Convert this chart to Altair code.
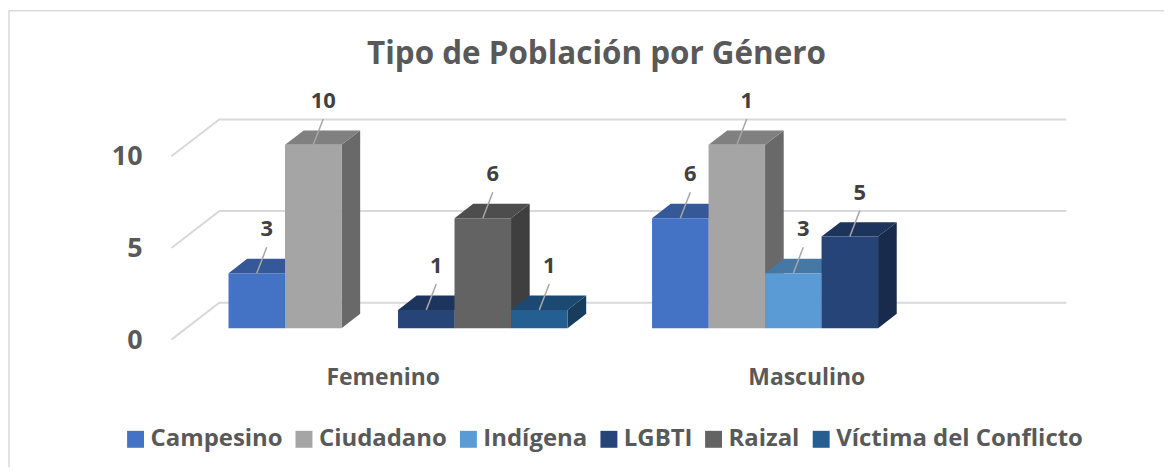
import altair as alt
import pandas as pd

# ---------------- data ----------------
genders = ["Femenino", "Masculino"]
series = ["Campesino", "Ciudadano", "Indígena", "LGBTI", "Raizal", "Víctima del Conflicto"]
femenino = [3, 10, None, 1, 6, 1]
masculino = [6, 10, 3, 5, None, None]
label_fem = ["3", "10", "", "1", "6", "1"]
label_mas = ["6", "1", "3", "5", "", ""]
y_ticks = [0, 5, 10]
colors = ["#4472C4", "#A5A5A5", "#5B9BD5", "#264478", "#636363", "#255E91"]
title_text = "Tipo de Población por Género"

# ---------------- layout (pixels) ----------------
W, H = 1160, 460
PXU = 18.4            # pixels per value unit
X0 = 164              # front-left corner of the floor
Y0 = 332              # pixel row of value 0 at the floor front
DEPTH_X, DEPTH_Y = 48, 37
DZ = DEPTH_Y / PXU
CAT_W = 425
SLOT = 56.7
MARGIN = (CAT_W - len(series) * SLOT) / 2
DF, DB = 0.31, 0.70
LEAD_DX, LEAD_DY, LAB_DY = 10, 26 / PXU, 37 / PXU
FONT = "Open Sans"


def shade(hexcol, f):
    h = hexcol.lstrip("#")
    r, g, b = (int(h[i:i + 2], 16) for i in (0, 2, 4))
    return "#%02x%02x%02x" % (int(r * f), int(g * f), int(b * f))


xs = alt.Scale(domain=[0, W], range=[0, W], nice=False, zero=False)
ys = alt.Scale(domain=[(Y0 - H) / PXU, Y0 / PXU], nice=False, zero=False)
X = lambda f="x": alt.X(f"{f}:Q", scale=xs, axis=None, stack=None)
Y = lambda f="y": alt.Y(f"{f}:Q", scale=ys, axis=None, stack=None)

values = [femenino, masculino]
labels = [label_fem, label_mas]

fronts, leads, texts = [], [], []
side_layers, top_layers = [], []
for gi, g in enumerate(genders):
    for si, s in enumerate(series):
        v = values[gi][si]
        if v is None:
            continue
        xl = X0 + gi * CAT_W + MARGIN + si * SLOT + DF * DEPTH_X
        xr = xl + SLOT
        shift = (DB - DF) * DEPTH_X
        yf = DF * DZ
        yb = DB * DZ
        fronts.append(dict(series=s, x=xl, x2=xr, y=v + yf, y2=yf))
        top_df = pd.DataFrame(dict(y=[v + yf, v + yb], x=[xl, xl + shift], x2=[xr, xr + shift]))
        side_df = pd.DataFrame(dict(x=[xr, xr + shift], y=[v + yf, v + yb], y2=[yf, yb]))
        side_layers.append(
            alt.Chart(side_df).mark_area(orient="vertical", color=shade(colors[si], 0.64))
            .encode(x=X(), y=Y(), y2="y2:Q"))
        top_layers.append(
            alt.Chart(top_df).mark_area(orient="horizontal", color=shade(colors[si], 0.78))
            .encode(y=Y(), x=X(), x2="x2:Q"))
        xc = (xl + xr) / 2
        leads.append(dict(x=xc, y=v + yf, x2=xc + LEAD_DX, y2=v + yf + LEAD_DY))
        texts.append(dict(x=xc + LEAD_DX, y=v + yf + LAB_DY, t=labels[gi][si]))

grid = []
for t in y_ticks:
    grid.append(dict(t=t, o=0, x=X0, y=t))
    grid.append(dict(t=t, o=1, x=X0 + DEPTH_X, y=t + DZ))
    grid.append(dict(t=t, o=2, x=X0 + DEPTH_X + len(genders) * CAT_W, y=t + DZ))

ylab = pd.DataFrame(dict(x=[X0 - 29] * len(y_ticks), y=y_ticks, t=[str(t) for t in y_ticks]))
catlab = pd.DataFrame(dict(x=[X0 + CAT_W * (i + 0.5) for i in range(len(genders))],
                           y=[-46 / PXU] * len(genders), t=genders))

grid_l = alt.Chart(pd.DataFrame(grid)).mark_line(color="#d9d9d9", strokeWidth=2).encode(
    x=X(), y=Y(), detail="t:N", order="o:Q")

front_l = alt.Chart(pd.DataFrame(fronts)).mark_rect().encode(
    x=X(), x2="x2:Q", y=Y(), y2="y2:Q",
    color=alt.Color("series:N", scale=alt.Scale(domain=series, range=colors),
                    legend=alt.Legend(orient="none", legendX=116, legendY=420,
                                      direction="horizontal", title=None,
                                      symbolType="square", symbolSize=289,
                                      symbolStrokeWidth=0, symbolOpacity=1,
                                      labelFont=FONT, labelFontWeight="bold",
                                      labelFontSize=24, labelColor="#595959",
                                      labelOffset=3, columnPadding=9, labelLimit=400)))

lead_l = alt.Chart(pd.DataFrame(leads)).mark_rule(color="#a6a6a6", strokeWidth=1.5).encode(
    x=X(), x2="x2:Q", y=Y(), y2="y2:Q")

text_l = alt.Chart(pd.DataFrame(texts)).mark_text(
    font=FONT, fontWeight="bold", fontSize=22, color="#404040",
    align="center", baseline="alphabetic").encode(x=X(), y=Y(), text="t:N")

ylab_l = alt.Chart(ylab).mark_text(
    font=FONT, fontWeight="bold", fontSize=27, color="#595959",
    align="right", baseline="middle", dy=1).encode(x=X(), y=Y(), text="t:N")

cat_l = alt.Chart(catlab).mark_text(
    font=FONT, fontWeight="bold", fontSize=23, color="#595959",
    align="center", baseline="alphabetic").encode(x=X(), y=Y(), text="t:N")

title_l = alt.Chart(pd.DataFrame(dict(t=[title_text]))).mark_text(
    font=FONT, fontWeight="bold", fontSize=31.5, color="#595959",
    align="center", baseline="alphabetic").encode(
    x=alt.value(590.5), y=alt.value(55), text="t:N")

frame = pd.DataFrame(dict(a=[0]))
border_top = alt.Chart(frame).mark_rule(color="#d9d9d9", strokeWidth=1.5).encode(
    x=alt.value(1), x2=alt.value(W), y=alt.value(2))
border_left = alt.Chart(frame).mark_rule(color="#d9d9d9", strokeWidth=1.5).encode(
    x=alt.value(1), y=alt.value(2), y2=alt.value(H))

chart = alt.layer(
    border_top, border_left, grid_l, *side_layers, *top_layers, front_l, lead_l, text_l,
    ylab_l, cat_l, title_l
).properties(
    width=W, height=H, padding=0, autosize=alt.AutoSizeParams(type="none"),
    background="white"
).configure_view(stroke=None)

chart.save("out.html", embed_options={"renderer": "svg", "actions": False})
